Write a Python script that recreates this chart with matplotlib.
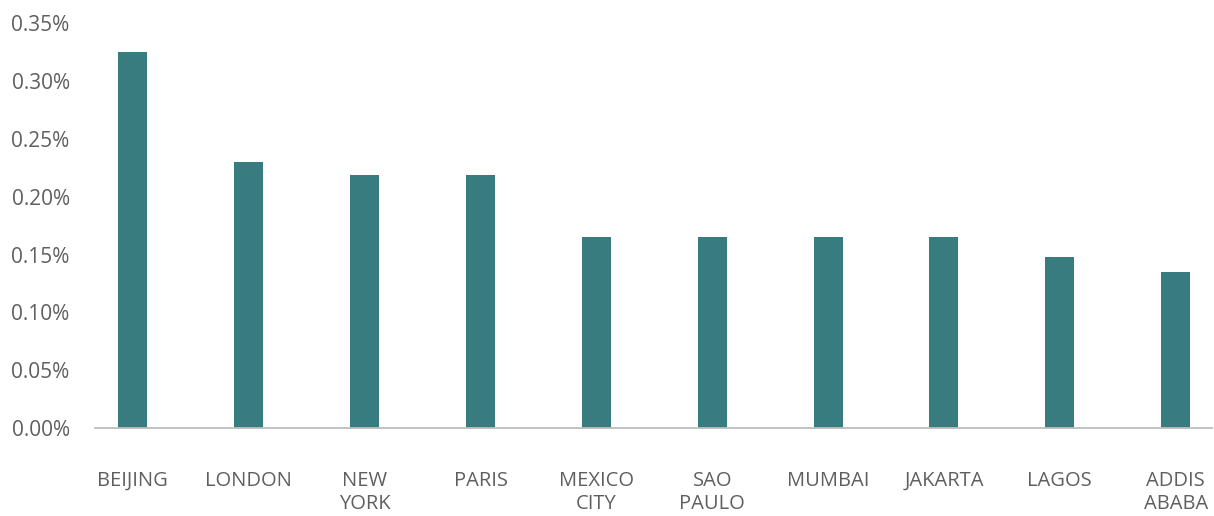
import matplotlib.pyplot as plt
from matplotlib.ticker import FuncFormatter

# ----------------------------
# Data
# ----------------------------
cities = ["BEIJING", "LONDON", "NEW\nYORK", "PARIS", "MEXICO\nCITY",
          "SAO\nPAULO", "MUMBAI", "JAKARTA", "LAGOS", "ADDIS\nABABA"]
values = [0.325, 0.230, 0.219, 0.219, 0.165, 0.165, 0.165, 0.165, 0.148, 0.135]
yticks = [0.00, 0.05, 0.10, 0.15, 0.20, 0.25, 0.30, 0.35]

bar_color = "#387C7F"
text_color = "#5f5f5f"

plt.rcParams["font.family"] = ["Open Sans", "DejaVu Sans"]

fig = plt.figure(figsize=(12.14, 5.16), dpi=100)
ax = fig.add_axes([0.078, 0.1705, 0.92, 0.7845])

x = range(len(cities))
ax.bar(x, values, width=0.25, color=bar_color)

ax.set_xlim(-0.33, len(cities) - 1 + 0.31)
ax.set_ylim(0, 0.35)
ax.set_yticks(yticks)
ax.yaxis.set_major_formatter(FuncFormatter(lambda v, p: f"{v:.2f}%"))
ax.set_xticks(list(x))
ax.set_xticklabels(cities, linespacing=1.2)

ax.tick_params(axis="y", length=0, pad=18, labelsize=15, labelcolor=text_color)
ax.tick_params(axis="x", length=0, pad=31, labelsize=14.5, labelcolor=text_color)

for side in ["top", "right", "left"]:
    ax.spines[side].set_visible(False)
ax.spines["bottom"].set_color("#bdbdbd")
ax.spines["bottom"].set_linewidth(1.3)

fig.savefig("out.png", dpi=100)
plt.close(fig)
